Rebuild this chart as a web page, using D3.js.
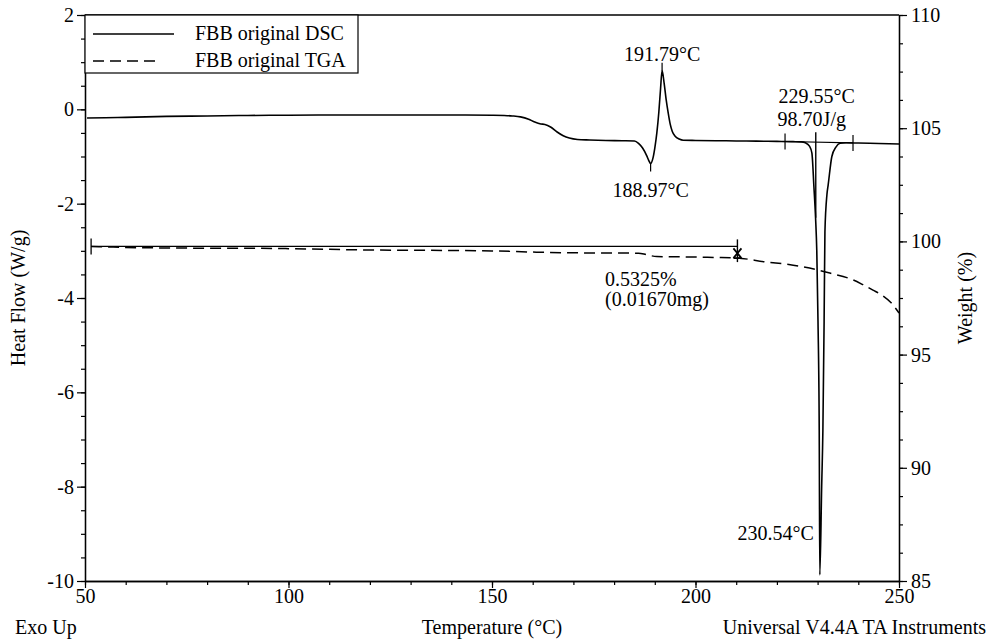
<!DOCTYPE html>
<html>
<head>
<meta charset="utf-8">
<script src="https://cdn.jsdelivr.net/npm/d3@7"></script>
<style>
  html, body { margin: 0; padding: 0; background: #fff; }
  svg { display: block; }
  text { font-family: "Liberation Serif", "Times New Roman", serif; font-size: 20px; fill: #000; }
</style>
</head>
<body>
<svg id="chart" width="994" height="641"></svg>
<script>
// DSC trace: temperature (°C) and heat flow (W/g)
const dscTemp = [50.5, 55, 60, 70, 80, 90, 100, 110, 120, 130, 140, 150, 153, 155, 157, 159, 160.5, 162, 163, 164.5,
  166, 167.5, 169, 171, 174, 178, 182, 185, 186, 187, 188, 188.5, 188.97, 189.5, 190, 190.5, 191, 191.4, 191.79,
  192.3, 192.8, 193.3, 193.8, 194.3, 195, 196, 197, 200, 205, 210, 215, 220, 224, 226, 227, 228, 228.6, 229.1,
  229.5, 229.8, 230.1, 230.4, 230.54, 231.0, 231.3, 231.6, 231.8, 232.3, 232.6, 233.5, 234.5, 235.5, 237, 240, 245, 250];
const dscFlow = [-0.184, -0.18, -0.17, -0.15, -0.14, -0.13, -0.125, -0.12, -0.12, -0.12, -0.12, -0.125, -0.13, -0.14,
  -0.16, -0.21, -0.27, -0.31, -0.32, -0.38, -0.48, -0.56, -0.61, -0.64, -0.65, -0.66, -0.665, -0.67, -0.72, -0.82,
  -0.98, -1.08, -1.15, -1.05, -0.82, -0.5, -0.05, 0.42, 0.82, 0.55, 0.2, -0.08, -0.32, -0.47, -0.57, -0.63, -0.655,
  -0.66, -0.665, -0.67, -0.675, -0.68, -0.685, -0.69, -0.71, -0.78, -0.93, -1.65, -2.3, -3.0, -4.5, -6.8, -9.87,
  -8.0, -6.8, -4.5, -2.6, -1.8, -1.6, -1.0, -0.8, -0.72, -0.71, -0.715, -0.725, -0.735];

// TGA trace: temperature (°C) and weight (%)
const tgaTemp = [51.5, 55, 60, 70, 80, 90, 100, 110, 120, 130, 140, 150, 160, 167, 175, 186, 188, 190.5, 195, 200,
  205, 210, 217, 224, 230, 233, 238.7, 241, 243.6, 246, 248, 250];
const tgaWeight = [99.78, 99.76, 99.73, 99.71, 99.70, 99.70, 99.68, 99.65, 99.62, 99.61, 99.60, 99.58, 99.53, 99.50,
  99.49, 99.48, 99.41, 99.33, 99.32, 99.31, 99.29, 99.27, 99.1, 98.95, 98.74, 98.6, 98.3, 98.1, 97.85, 97.6, 97.3, 96.84];

// Annotated analysis results
const dscPeaks = [
  { temp: 191.79, flow: 0.82, label: "191.79°C", side: "above" },
  { temp: 188.97, flow: -1.15, label: "188.97°C", side: "below" }
];
const meltPeak = { temp: 230.54, flow: -9.87, label: "230.54°C" };
const meltOnset = { temp: 229.55, enthalpy: "98.70J/g", label: "229.55°C" };
const meltLimits = [222.0, 238.7];
const stepLimits = [51.5, 210.3];
const stepLabels = ["0.5325%", "(0.01670mg)"];

// Axis ticks
const xMajor = [50, 100, 150, 200, 250];
const xMinor = d3.range(50, 251, 10);
const yLeftMajor = [-10, -8, -6, -4, -2, 0, 2];
const yLeftMinor = d3.range(-10, 2.01, 0.5);
const yRightMajor = [85, 90, 95, 100, 105, 110];
const yRightMinor = d3.range(85, 110.01, 1.25);

const legendItems = [
  { label: "FBB original DSC", dash: null },
  { label: "FBB original TGA", dash: "11,6" }
];

const svg = d3.select("#chart");
const L = 85, R = 899, T = 15, B = 581;

const x = d3.scaleLinear().domain([50, 250]).range([L, R]);
const yL = d3.scaleLinear().domain([-10, 2]).range([B, T]);
const yR = d3.scaleLinear().domain([85, 110]).range([B, T]);

// Plain hyphen-minus for negative tick labels
const plain = d => String(d);

function styleAxis(g) {
  g.attr("font-family", "Liberation Serif, serif").attr("font-size", 20);
  g.selectAll("path.domain").attr("stroke", "#000").attr("stroke-width", 1.3);
  g.selectAll("line").attr("stroke", "#000").attr("stroke-width", 1.2);
  g.selectAll("text").attr("fill", "#000");
}

// Minor ticks first, then labelled major axes
svg.append("g").attr("transform", `translate(0,${B})`)
  .call(d3.axisBottom(x).tickValues(xMinor).tickSize(4).tickFormat("").tickSizeOuter(0))
  .call(styleAxis);
svg.append("g").attr("transform", `translate(${L},0)`)
  .call(d3.axisLeft(yL).tickValues(yLeftMinor).tickSize(4).tickFormat("").tickSizeOuter(0))
  .call(styleAxis);
svg.append("g").attr("transform", `translate(${R},0)`)
  .call(d3.axisRight(yR).tickValues(yRightMinor).tickSize(4).tickFormat("").tickSizeOuter(0))
  .call(styleAxis);

svg.append("g").attr("transform", `translate(0,${B})`)
  .call(d3.axisBottom(x).tickValues(xMajor).tickSize(7).tickPadding(1).tickFormat(plain).tickSizeOuter(0))
  .call(styleAxis);
svg.append("g").attr("transform", `translate(${L},0)`)
  .call(d3.axisLeft(yL).tickValues(yLeftMajor).tickSize(8).tickPadding(3).tickFormat(plain).tickSizeOuter(0))
  .call(styleAxis);
svg.append("g").attr("transform", `translate(${R},0)`)
  .call(d3.axisRight(yR).tickValues(yRightMajor).tickSize(8).tickPadding(4).tickFormat(plain).tickSizeOuter(0))
  .call(styleAxis);

// Top frame line
svg.append("line").attr("x1", L).attr("x2", R).attr("y1", T).attr("y2", T)
  .attr("stroke", "#000").attr("stroke-width", 1.3);

// Curves
const dscData = dscTemp.map((t, i) => [t, dscFlow[i]]);
const tgaData = tgaTemp.map((t, i) => [t, tgaWeight[i]]);

const dscLine = d3.line().x(d => x(d[0])).y(d => yL(d[1])).curve(d3.curveMonotoneX);
const tgaLine = d3.line().x(d => x(d[0])).y(d => yR(d[1])).curve(d3.curveMonotoneX);

svg.append("path").datum(tgaData).attr("d", tgaLine)
  .attr("fill", "none").attr("stroke", "#000").attr("stroke-width", 1.5).attr("stroke-dasharray", "11,6");
svg.append("path").datum(dscData).attr("d", dscLine)
  .attr("fill", "none").attr("stroke", "#000").attr("stroke-width", 1.6);

// DSC peak annotations
const flowAt = d3.scaleLinear().domain(dscTemp).range(dscFlow);
dscPeaks.forEach(p => {
  const px = x(p.temp), py = yL(p.flow);
  const dir = p.side === "above" ? -1 : 1;
  svg.append("line").attr("x1", px).attr("x2", px).attr("y1", py).attr("y2", py + dir * 8)
    .attr("stroke", "#000").attr("stroke-width", 1.2);
  svg.append("text").attr("x", px).attr("y", p.side === "above" ? py - 10 : py + 33)
    .attr("text-anchor", "middle").text(p.label);
});

// Melting peak: integration baseline, limits, onset and peak labels
const limitVals = meltLimits.map(t => flowAt(t));
const limitPts = meltLimits.map((t, i) => [x(t), yL(limitVals[i])]);
svg.append("line").attr("x1", limitPts[0][0]).attr("y1", limitPts[0][1])
  .attr("x2", limitPts[1][0]).attr("y2", limitPts[1][1]).attr("stroke", "#000").attr("stroke-width", 1.2);
limitPts.forEach(([px, py]) => {
  svg.append("line").attr("x1", px).attr("x2", px).attr("y1", py - 8).attr("y2", py + 8)
    .attr("stroke", "#000").attr("stroke-width", 1.2);
});
const baseAt = d3.scaleLinear().domain(meltLimits).range(limitVals);
const onX = x(meltOnset.temp), onY = yL(baseAt(meltOnset.temp));
svg.append("line").attr("x1", onX).attr("x2", onX).attr("y1", onY - 10).attr("y2", yL(-2.3))
  .attr("stroke", "#000").attr("stroke-width", 1.4);
svg.append("text").attr("x", onX + 1).attr("y", onY - 39).attr("text-anchor", "middle").text(meltOnset.label);
svg.append("text").attr("x", onX - 4).attr("y", onY - 16).attr("text-anchor", "middle").text(meltOnset.enthalpy);
svg.append("text").attr("x", x(meltPeak.temp) - 6).attr("y", yL(meltPeak.flow) - 35)
  .attr("text-anchor", "end").text(meltPeak.label);

// TGA weight-step annotation
const weightAt = d3.scaleLinear().domain(tgaTemp).range(tgaWeight);
const s0x = x(stepLimits[0]), s0y = yR(weightAt(stepLimits[0]));
const s1x = x(stepLimits[1]), s1y = yR(weightAt(stepLimits[1]));
svg.append("line").attr("x1", s0x).attr("x2", s1x).attr("y1", s0y).attr("y2", s0y)
  .attr("stroke", "#000").attr("stroke-width", 1.3);
svg.append("line").attr("x1", s0x).attr("x2", s0x).attr("y1", s0y - 8).attr("y2", s0y + 8)
  .attr("stroke", "#000").attr("stroke-width", 1.3);
svg.append("line").attr("x1", s1x).attr("x2", s1x).attr("y1", s0y - 7).attr("y2", s1y + 4)
  .attr("stroke", "#000").attr("stroke-width", 1.4);
svg.append("path")
  .attr("d", `M${s1x - 4},${s0y + 2}L${s1x + 4},${s1y}M${s1x + 4},${s0y + 2}L${s1x - 4},${s1y}M${s1x - 4},${s1y}L${s1x + 4},${s1y}`)
  .attr("stroke", "#000").attr("stroke-width", 1.8).attr("fill", "none");
stepLabels.forEach((t, i) => {
  svg.append("text").attr("x", 605).attr("y", 286 + i * 20).text(t);
});

// Legend
const lg = svg.append("g");
lg.append("rect").attr("x", L).attr("y", T).attr("width", 273).attr("height", 58)
  .attr("fill", "#fff").attr("stroke", "#000").attr("stroke-width", 1.2);
legendItems.forEach((d, i) => {
  const yy = 34 + i * 27;
  lg.append("line").attr("x1", 93).attr("x2", d.dash ? 158 : 174).attr("y1", yy).attr("y2", yy)
    .attr("stroke", "#000").attr("stroke-width", 1.5).attr("stroke-dasharray", d.dash);
  lg.append("text").attr("x", 195).attr("y", yy + 6).text(d.label);
});

// Axis titles and footer
svg.append("text").attr("transform", "translate(25,298) rotate(-90)").attr("text-anchor", "middle").text("Heat Flow (W/g)");
svg.append("text").attr("transform", "translate(972,298) rotate(-90)").attr("text-anchor", "middle").text("Weight (%)");
svg.append("text").attr("x", x(150)).attr("y", 634).attr("text-anchor", "middle").text("Temperature (°C)");
svg.append("text").attr("x", 15).attr("y", 634).text("Exo Up");
svg.append("text").attr("x", 986).attr("y", 634).attr("text-anchor", "end").text("Universal V4.4A TA Instruments");
</script>
</body>
</html>
